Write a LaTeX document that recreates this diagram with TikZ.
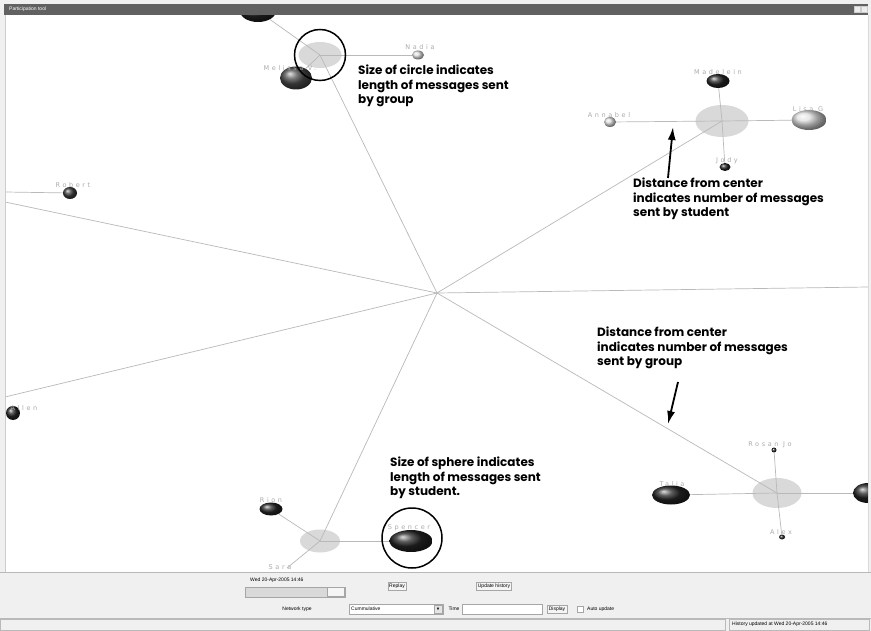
\documentclass[tikz,border=0pt]{standalone}
\usepackage{amssymb}
\usepackage{fontspec}
\setmainfont{Liberation Sans}
\newfontfamily\notefont{Poppins}
\newfontfamily\namefont[LetterSpace=40]{DejaVu Sans}
\usetikzlibrary{shapes.geometric,arrows.meta,positioning}

\begin{document}
\begin{tikzpicture}[x=1pt,y=-1pt]

      \tikzset{sphere/.style={ellipse, inner sep=0pt, shading=ball, ball color=black!85},
               lightsph/.style={sphere, ball color=gray!25},
               grpdisc/.style={ellipse, inner sep=0pt, fill=gray!30},
               spoke/.style={draw=gray!55, line width=.7pt},
               who/.style={inner sep=0pt, text=gray!65, font=\namefont\fontsize{6.5}{7}\selectfont},
               note/.style={inner sep=0pt, align=left, anchor=north west, font=\notefont\bfseries\fontsize{12}{14.5}\selectfont},
               ring/.style={draw, circle, line width=1.5pt, inner sep=0pt},
               pointer/.style={line width=1.8pt, -{Latex[length=13pt,width=8pt]}},
               btn/.style={draw=gray!70, fill=gray!8, inner sep=1.5pt, font=\fontsize{5}{6}\selectfont},
               gui/.style={inner sep=0pt, font=\fontsize{5}{6}\selectfont}}

	\useasboundingbox (0,0) rectangle (871,631);
	\fill[gray!12] (0,0) rectangle (871,631);
	\fill[white] (5,15) rectangle (868,572);

% Network
    \begin{scope}
    \clip (5,15) rectangle (868,572);
	%Centrum
		\coordinate (hub) at (437,293);
		\coordinate (offL1) at (5,202);
		\coordinate (offL2) at (5,397);
		\coordinate (offR) at (868,287);
		\coordinate (offRob) at (5,192);
		\coordinate (sara) at (287,568);

	%Grupper
		\node[grpdisc, minimum width=43pt, minimum height=26pt] (g1) at (320,55) {};
		\node[grpdisc, minimum width=53pt, minimum height=32pt] (g2) at (722,121) {};
		\node[grpdisc, minimum width=40pt, minimum height=23pt] (g3) at (320,541) {};
		\node[grpdisc, minimum width=49pt, minimum height=30pt] (g4) at (777,493) {};

	%Studerende
		\node[sphere, minimum width=36pt, minimum height=22pt] (tops) at (258,11) {};
		\node[sphere, ball color=gray!60!black, minimum width=32pt, minimum height=23pt] (melissa) at (296,78) {};
		\node[lightsph, minimum width=12pt, minimum height=9pt] (nadia) at (418,55) {};
		\node[sphere, minimum width=23pt, minimum height=14pt] (madelein) at (718,81) {};
		\node[lightsph, minimum width=35pt, minimum height=20pt] (lisa) at (809,120) {};
		\node[lightsph, minimum width=12pt, minimum height=10pt] (annabel) at (610,122) {};
		\node[sphere, minimum width=11pt, minimum height=8pt] (jody) at (725,167) {};
		\node[sphere, ball color=gray!50!black, minimum width=14pt, minimum height=12pt] (robert) at (70,193) {};
		\node[sphere, minimum width=14pt, minimum height=14pt] (allen) at (13,413) {};
		\node[sphere, minimum width=23pt, minimum height=13pt] (rion) at (271,509) {};
		\node[sphere, minimum width=43pt, minimum height=22pt] (spencer) at (411,541) {};
		\node[sphere, minimum width=38pt, minimum height=19pt] (talia) at (671,495) {};
		\node[sphere, minimum width=5pt, minimum height=5pt] (rosan) at (774,450) {};
		\node[sphere, minimum width=6pt, minimum height=5pt] (alex) at (782,537) {};
		\node[sphere, minimum width=30pt, minimum height=20pt] (jright) at (868,493) {};

	%Eger
		\path[spoke] (hub) edge (g1.center);
		\path[spoke] (hub) edge (g2.center);
		\path[spoke] (hub) edge (g3.center);
		\path[spoke] (hub) edge (g4.center);
		\path[spoke] (hub) edge (offL1);
		\path[spoke] (hub) edge (offL2);
		\path[spoke] (hub) edge (offR);
		\path[spoke] (offRob) edge (robert);
		\path[spoke] (g1.center) edge (tops);
		\path[spoke] (g1.center) edge (melissa);
		\path[spoke] (g1.center) edge (nadia);
		\path[spoke] (g2.center) edge (madelein);
		\path[spoke] (g2.center) edge (lisa);
		\path[spoke] (g2.center) edge (annabel);
		\path[spoke] (g2.center) edge (jody);
		\path[spoke] (g3.center) edge (rion);
		\path[spoke] (g3.center) edge (spencer);
		\path[spoke] (g3.center) edge (sara);
		\path[spoke] (g4.center) edge (rosan);
		\path[spoke] (g4.center) edge (alex);
		\path[spoke] (g4.center) edge (talia);
		\path[spoke] (g4.center) edge (jright);

	%Navne
		\node[who] (melissaT) at (290,68) {Melissa V.};
		\node[who] (nadiaT) at (420,47) {Nadia};
		\node[who] (madeleinT) at (718,72) {Madelein};
		\node[who] (lisaT) at (808,109) {Lisa G};
		\node[who] (annabelT) at (609,115) {Annabel};
		\node[who] (jodyT) at (727,161) {Jody};
		\node[who] (robertT) at (73,185) {Robert};
		\node[who] (allenT) at (24,408) {Allen};
		\node[who] (rionT) at (271,500) {Rion};
		\node[who] (spencerT) at (409,528) {Spencer};
		\node[who] (saraT) at (280,567) {Sara};
		\node[who] (rosanT) at (770,445) {Rosan Jo};
		\node[who] (alexT) at (781,532) {Alex};
		\node[who] (taliaT) at (672,484) {Talia};
    \end{scope}

% Forklaringer
		\node[ring, minimum size=51pt] (ringgrp) at (320,55) {};
		\node[ring, minimum size=60pt] (ringstu) at (412,538) {};
		\node[note] (noteA) at (358,65) {Size of circle indicates\\length of messages sent\\by group};
		\node[note] (noteB) at (633,178) {Distance from center\\indicates number of messages\\sent by student};
		\node[note] (noteC) at (597,327) {Distance from center\\indicates number of messages\\sent by group};
		\node[note] (noteD) at (390,457) {Size of sphere indicates\\length of messages sent\\by student.};
		\coordinate (upS) at (668,178);
		\coordinate (upE) at (673,127);
		\coordinate (dnS) at (678,382);
		\coordinate (dnE) at (668,424);
		\draw[pointer] (upS) -- (upE);
		\draw[pointer] (dnS) -- (dnE);

% Vindue
		\fill[black!62] (4,4) rectangle (868,15);
		\node[gui, text=white, anchor=west] (title) at (9,9.5) {Participation tool};
		\node[draw=gray!40, fill=gray!15, minimum size=6pt, inner sep=0pt] (minb) at (857,9.5) {};
		\node[draw=gray!40, fill=gray!15, minimum size=6pt, inner sep=0pt] (closeb) at (864,9.5) {};
		\draw[gray!40] (5,15) -- (5,572);
		\draw[gray!30] (868,15) -- (868,572);
		\draw[gray!55] (0,572) -- (871,572);

% Panel
		\node[gui, anchor=west] (date) at (250,580) {Wed 20-Apr-2005 14:46};
		\node[draw=gray!70, fill=gray!30, minimum width=100pt, minimum height=10pt, inner sep=0pt] (slider) at (295,592) {};
		\node[draw=gray!70, fill=gray!8, minimum width=17pt, minimum height=9pt, inner sep=0pt] (thumb) at (336,592) {};
		\node[btn] (replay) at (397,586) {Replay};
		\node[btn] (updhist) at (494,586) {Update history};
		\node[gui] (nettype) at (297,609) {Network type};
		\node[draw=gray!70, fill=white, minimum width=94pt, minimum height=10pt, inner sep=0pt] (combo) at (396,609) {};
		\node[gui, anchor=west] (cumm) at (351,609) {Cummulative};
		\node[fill=gray!20, draw=gray!70, minimum size=8pt, inner sep=0pt, font=\fontsize{4}{4}\selectfont] (drop) at (438,609) {$\blacktriangledown$};
		\node[gui] (timeT) at (454,609) {Time};
		\node[draw=gray!70, fill=white, minimum width=80pt, minimum height=10pt, inner sep=0pt] (timebox) at (502,609) {};
		\node[btn] (display) at (557,609) {Display};
		\node[draw=gray!70, fill=white, minimum size=6pt, inner sep=0pt] (chk) at (580,609) {};
		\node[gui, anchor=west] (autoT) at (587,609) {Auto update};
		\draw[gray!55] (0,618) -- (871,618);
		\draw[gray!55] (0,619) rectangle (725,630);
		\node[draw=gray!55, minimum width=140pt, minimum height=11pt, inner sep=0pt] (statbox) at (799,624.5) {};
		\node[gui, anchor=west] (status) at (732,624.5) {History updated at Wed 20-Apr-2005 14:46};

	\end{tikzpicture}
\end{document}
